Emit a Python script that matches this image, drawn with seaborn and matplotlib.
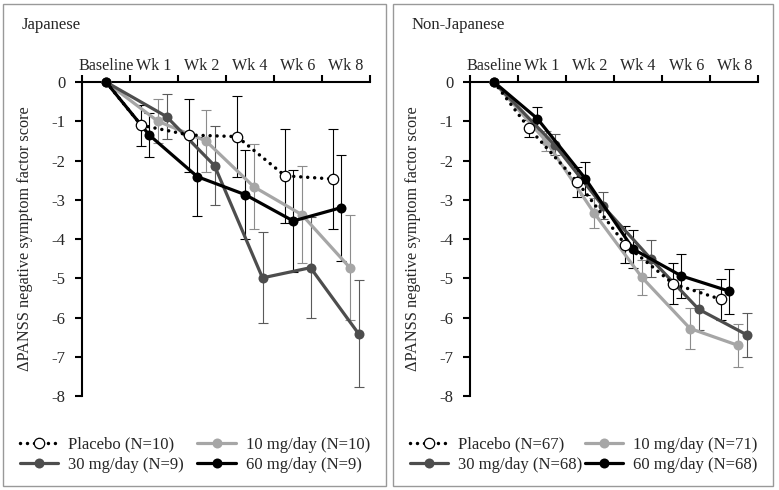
import numpy as np
import pandas as pd
import matplotlib
matplotlib.use('Agg')
import matplotlib.pyplot as plt
from matplotlib.patches import Rectangle
from matplotlib.lines import Line2D
import seaborn as sns

# Données (moyenne et erreur standard par visite)
weeks = ['Baseline', 'Wk 1', 'Wk 2', 'Wk 4', 'Wk 6', 'Wk 8']

groups_jp = ['Placebo (N=10)', '10 mg/day (N=10)', '30 mg/day (N=9)', '60 mg/day (N=9)']
placebo_jp = [0, -1.10, -1.35, -1.39, -2.39, -2.47]
mg10_jp = [0, -1.00, -1.50, -2.67, -3.38, -4.73]
mg30_jp = [0, -0.88, -2.13, -4.99, -4.73, -6.41]
mg60_jp = [0, -1.35, -2.41, -2.87, -3.54, -3.20]
placebo_jp_se = [0, 0.52, 0.93, 1.04, 1.20, 1.27]
mg10_jp_se = [0, 0.56, 0.80, 1.08, 1.23, 1.33]
mg30_jp_se = [0, 0.57, 1.00, 1.16, 1.28, 1.37]
mg60_jp_se = [0, 0.57, 1.00, 1.13, 1.30, 1.35]

groups_nj = ['Placebo (N=67)', '10 mg/day (N=71)', '30 mg/day (N=68)', '60 mg/day (N=68)']
placebo_nj = [0, -1.18, -2.54, -4.14, -5.14, -5.54]
mg10_nj = [0, -1.50, -3.33, -4.98, -6.28, -6.71]
mg30_nj = [0, -1.60, -3.15, -4.50, -5.79, -6.44]
mg60_nj = [0, -0.93, -2.46, -4.26, -4.94, -5.33]
placebo_nj_se = [0, 0.22, 0.38, 0.48, 0.52, 0.53]
mg10_nj_se = [0, 0.25, 0.38, 0.45, 0.51, 0.55]
mg30_nj_se = [0, 0.27, 0.35, 0.47, 0.52, 0.56]
mg60_nj_se = [0, 0.29, 0.42, 0.48, 0.55, 0.57]

# Style
sns.set_style('white')
plt.rcParams['font.family'] = ['Liberation Serif', 'DejaVu Serif']
plt.rcParams['font.size'] = 12

# placebo, 10, 30, 60 mg
offsets = [0.23, 0.58, 0.76, 0.40]
line_colors = ['black', '#a6a6a6', '#4d4d4d', 'black']
err_colors = ['black', '#8c8c8c', '#5a5a5a', 'black']
face_colors = ['white', '#a6a6a6', '#4d4d4d', 'black']
edge_colors = ['black', '#a6a6a6', '#4d4d4d', 'black']
widths = [2.5, 2.3, 2.3, 2.3]
msizes = [7.5, 7.2, 7.2, 7.2]
medges = [0.9, 0, 0, 0]
zorders = [6, 3, 4, 5]
dotted = (0, (0.01, 2.0))

fig = plt.figure(figsize=(7.79, 4.9), dpi=100)


def draw_panel(ax, means, ses, groups, colspacing, leg_x):
    for k in range(4):
        xs = [0.5] + [i + offsets[k] for i in range(1, len(weeks))]
        df = pd.DataFrame({'x': xs, 'y': means[k]})
        ax.errorbar(xs[1:], means[k][1:], yerr=ses[k][1:], fmt='none',
                    ecolor=err_colors[k], elinewidth=0.8, capsize=3.3,
                    capthick=0.8, zorder=2, clip_on=False)
        sns.lineplot(data=df, x='x', y='y', ax=ax, errorbar=None,
                     color=line_colors[k], lw=widths[k],
                     marker='o', ms=msizes[k], mfc=face_colors[k],
                     mec=edge_colors[k], mew=medges[k],
                     markevery=list(range(1, len(weeks))) if k == 0 else None,
                     label=groups[k], zorder=zorders[k], clip_on=False)
    # ligne pointillée du placebo
    pl = [l for l in ax.get_lines() if l.get_label() == groups[0]][0]
    pl.set_linestyle(dotted)
    pl.set_dash_capstyle('round')

    ax.set_xlim(0, 6)
    ax.set_ylim(-8, 0)
    ax.xaxis.tick_top()
    ax.set_xticks(range(7))
    ax.set_xticklabels([])
    ax.set_xticks(np.arange(6) + 0.5, minor=True)
    ax.set_xticklabels(weeks, minor=True)
    ax.tick_params(axis='x', which='major', top=True, bottom=False,
                   length=5, width=1.5, direction='out', color='black')
    ax.tick_params(axis='x', which='minor', top=True, bottom=False, length=0,
                   pad=6, labeltop=True, labelbottom=False, labelsize=11.6)
    ax.set_yticks(range(-8, 1))
    ax.set_yticklabels([str(v) for v in range(-8, 1)])
    ax.tick_params(axis='y', left=True, length=5, width=1.5, direction='out',
                   pad=7, labelsize=12, color='black')
    for s in ['right', 'bottom']:
        ax.spines[s].set_visible(False)
    for s in ['top', 'left']:
        ax.spines[s].set_color('black')
        ax.spines[s].set_linewidth(1.5)
    ax.set_xlabel('')
    ax.set_ylabel('ΔPANSS negative symptom factor score', fontsize=11.7)
    ax.yaxis.set_label_coords(-0.17, 0.5)

    # légende (2 colonnes)
    handles = [Line2D([], [], color=line_colors[k], lw=widths[k],
                      ls=dotted if k == 0 else '-', dash_capstyle='round',
                      marker='o', ms=msizes[k], mfc=face_colors[k],
                      mec=edge_colors[k], mew=medges[k]) for k in range(4)]
    order = [0, 2, 1, 3]
    ax.legend([handles[i] for i in order], [groups[i] for i in order], ncol=2,
              loc='center left', bbox_to_anchor=(leg_x, 0.072),
              bbox_transform=fig.transFigure, frameon=False,
              handlelength=2.3, handletextpad=0.6, columnspacing=colspacing,
              borderpad=0, borderaxespad=0, labelspacing=0.25, fontsize=12)


ax1 = fig.add_axes([0.1053, 0.1918, 0.3697, 0.6408])
draw_panel(ax1, [placebo_jp, mg10_jp, mg30_jp, mg60_jp],
           [placebo_jp_se, mg10_jp_se, mg30_jp_se, mg60_jp_se],
           groups_jp, 0.8, 20 / 779)

ax2 = fig.add_axes([0.6033, 0.1918, 0.3701, 0.6408])
draw_panel(ax2, [placebo_nj, mg10_nj, mg30_nj, mg60_nj],
           [placebo_nj_se, mg10_nj_se, mg30_nj_se, mg60_nj_se],
           groups_nj, 0.15, 410 / 779)

# Titres et cadres des panneaux
fig.text(22 / 779, 1 - 25 / 490, 'Japanese', ha='left', va='center', fontsize=12)
fig.text(412 / 779, 1 - 25 / 490, 'Non-Japanese', ha='left', va='center', fontsize=12)
fig.patches.append(Rectangle((3 / 779, 4 / 490), 383 / 779, 482 / 490,
                             transform=fig.transFigure, fill=False,
                             ec='#999999', lw=1))
fig.patches.append(Rectangle((393 / 779, 4 / 490), 380 / 779, 482 / 490,
                             transform=fig.transFigure, fill=False,
                             ec='#999999', lw=1))

fig.savefig('out.png', dpi=100)
